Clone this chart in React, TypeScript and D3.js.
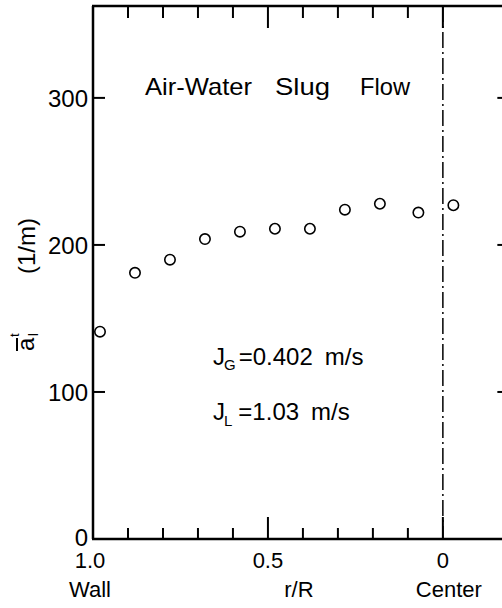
import React from 'react';
import * as d3 from 'd3';

// r/R positions of the measured points (1 = wall, 0 = center)
const rR = [0.98, 0.88, 0.78, 0.68, 0.58, 0.48, 0.38, 0.28, 0.18, 0.07, -0.03];
// interfacial area concentration (1/m)
const ai = [141, 181, 190, 204, 209, 211, 211, 224, 228, 222, 227];

const yTicks = [0, 100, 200, 300];
const xMinor = [0.9, 0.8, 0.7, 0.6, 0.4, 0.3, 0.2, 0.1];
const xMajor = [1.0, 0.5, 0];
const xTickLabels = ['1.0', '0.5', '0'];
const xSubLabels = ['Wall', 'r/R', 'Center'];

const W = 502;
const H = 608;
const FONT = '"Liberation Sans", Arial, sans-serif';

const App = () => {
  const x = d3.scaleLinear().domain([1, -0.169]).range([93, 502]);
  const y = d3.scaleLinear().domain([0, 362.5]).range([539, 6]);

  const left = x(1);
  const top = y(362.5);
  const bottom = y(0);
  const rightAxis = x(-0.19);

  return (
    <svg
      width={W}
      height={H}
      style={{ position: 'absolute', left: 0, top: 0, background: '#fff', overflow: 'hidden' }}
      fontFamily={FONT}
    >
      <rect width={W} height={H} fill="#fff" />

      {/* frame */}
      <g stroke="#000" strokeWidth={2.5} fill="none">
        <line x1={left} y1={top} x2={left} y2={bottom} />
        <line x1={left - 1} y1={top} x2={W + 5} y2={top} />
        <line x1={left - 1} y1={bottom} x2={W + 5} y2={bottom} />
        <line x1={rightAxis} y1={top} x2={rightAxis} y2={bottom} />
      </g>

      {/* y ticks, left and right, inward */}
      <g stroke="#000" strokeWidth={2}>
        {yTicks.map(v => (
          <line key={'l' + v} x1={left} x2={left + 12} y1={y(v)} y2={y(v)} />
        ))}
        {yTicks.filter(v => v > 0).map(v => (
          <line key={'r' + v} x1={rightAxis - 12} x2={rightAxis} y1={y(v)} y2={y(v)} />
        ))}
      </g>
      <g fontSize={24} textAnchor="end" fill="#000">
        {yTicks.map(v => (
          <text key={v} x={left - 5} y={y(v) - (v === 0 ? 2 : 0)} dy="0.36em">{v}</text>
        ))}
      </g>

      {/* x ticks top and bottom */}
      <g stroke="#000" strokeWidth={2}>
        {xMinor.map(v => (
          <g key={v}>
            <line x1={x(v)} x2={x(v)} y1={bottom} y2={bottom - 11} />
            <line x1={x(v)} x2={x(v)} y1={top} y2={top + 12} />
          </g>
        ))}
        {xMajor.filter(v => v !== 1).map(v => (
          <g key={v}>
            <line x1={x(v)} x2={x(v)} y1={bottom} y2={bottom - 22} />
            <line x1={x(v)} x2={x(v)} y1={top} y2={top + 22} />
          </g>
        ))}
      </g>

      {/* center line */}
      <line
        x1={x(0)} x2={x(0)} y1={top} y2={bottom}
        stroke="#000" strokeWidth={1.5} strokeDasharray="16 4 2 4"
      />

      <g fontSize={22} textAnchor="middle" fill="#000">
        {xMajor.map((v, i) => (
          <text key={v} x={x(v) - (i === 0 ? 3 : 0)} y={568}>{xTickLabels[i]}</text>
        ))}
        {xMajor.map((v, i) => (
          <text key={'s' + v} x={x(v) + (i === 0 ? -3 : i === 1 ? 31 : 6)} y={597}>{xSubLabels[i]}</text>
        ))}
      </g>

      {/* y label */}
      <text
        transform={`translate(35,246) rotate(-90)`}
        fontSize={24}
        textAnchor="middle"
        fill="#000"
      >(1/m)</text>
      <g transform="translate(27,341) rotate(-90)" fill="#000">
        <text x={-10} y={7} fontSize={24}>a<tspan dx={1} dy={4} fontSize={15}>I</tspan></text>
        <line x1={-10} x2={3} y1={-10} y2={-10} stroke="#000" strokeWidth={2} />
        <text x={4} y={-8} fontSize={13}>t</text>
      </g>

      {/* title */}
      <g fontSize={24} fill="#000" lengthAdjust="spacingAndGlyphs">
        <text x={145} y={95} textLength={107} lengthAdjust="spacingAndGlyphs">Air-Water</text>
        <text x={275} y={95} textLength={55} lengthAdjust="spacingAndGlyphs">Slug</text>
        <text x={360} y={95} textLength={50} lengthAdjust="spacingAndGlyphs">Flow</text>
      </g>

      {/* conditions */}
      <g fontSize={24} fill="#000">
        <text x={213} y={365}>
          J<tspan dx={-1} dy={5} fontSize={15}>G</tspan>
          <tspan dx={3} dy={-5}>=0.402</tspan>
          <tspan dx={12}>m/s</tspan>
        </text>
        <text x={213} y={420}>
          J<tspan dx={-1} dy={6} fontSize={15}>L</tspan>
          <tspan dx={6} dy={-6}>=1.03</tspan>
          <tspan dx={12}>m/s</tspan>
        </text>
      </g>

      {/* data */}
      <g fill="#fff" stroke="#000" strokeWidth={1.6}>
        {rR.map((r, i) => (
          <circle key={i} cx={x(r)} cy={y(ai[i])} r={5.2} />
        ))}
      </g>
    </svg>
  );
};

export default App;
